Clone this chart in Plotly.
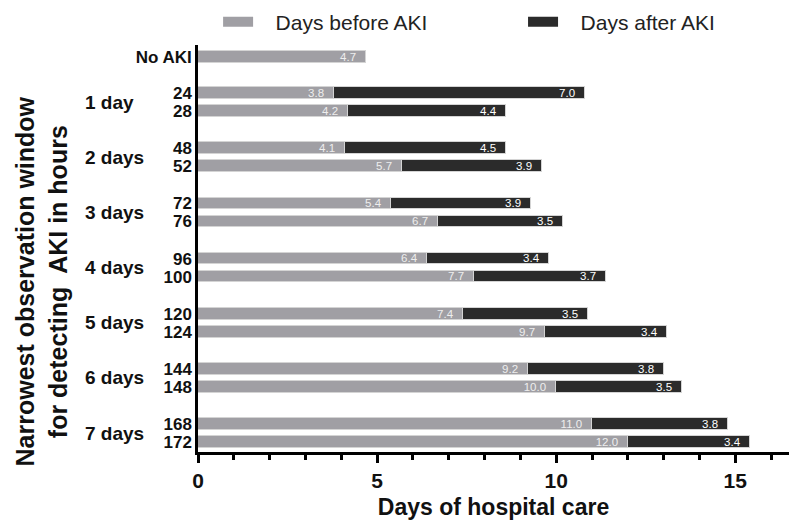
import plotly.graph_objects as go

# Hours of the narrowest observation window, grouped by day
row_labels = ["No AKI", "24", "28", "48", "52", "72", "76", "96", "100",
              "120", "124", "144", "148", "168", "172"]
group_labels = ["1 day", "2 days", "3 days", "4 days", "5 days", "6 days", "7 days"]

# Mean days of hospital care before and after AKI detection
days_before = [4.7, 3.8, 4.2, 4.1, 5.7, 5.4, 6.7, 6.4, 7.7, 7.4, 9.7, 9.2, 10.0, 11.0, 12.0]
days_after = [None, 7.0, 4.4, 4.5, 3.9, 3.9, 3.5, 3.4, 3.7, 3.5, 3.4, 3.8, 3.5, 3.8, 3.4]
series_names = ["Days before AKI", "Days after AKI"]

GRAY = "#a09fa4"
DARK = "#2b2b2b"
FONT = "Arial, Liberation Sans, sans-serif"
INK = "#111111"

# Row layout: "No AKI" on its own, then pairs of rows for each day group
PITCH = 3.065
ypos = [0.0]
for g in range(len(group_labels)):
    ypos += [2 + g * PITCH, 3 + g * PITCH]

fig = go.Figure()
fig.add_trace(go.Bar(
    y=ypos, x=days_before, orientation="h", width=0.64,
    marker=dict(color=GRAY, line=dict(color="#d4d4d4", width=1)),
    texttemplate="%{x:.1f}\u00a0\u00a0", textposition="inside", insidetextanchor="end",
    constraintext="none",
    textfont=dict(family=FONT, size=11.5, color="#eeeeee"),
    showlegend=False, hoverinfo="skip",
))
fig.add_trace(go.Bar(
    y=ypos, x=days_after, orientation="h", width=0.64,
    marker=dict(color=DARK, line=dict(color="#d4d4d4", width=1)),
    texttemplate="%{x:.1f}\u00a0\u00a0", textposition="inside", insidetextanchor="end",
    constraintext="none",
    textfont=dict(family=FONT, size=11.5, color="#ffffff"),
    showlegend=False, hoverinfo="skip",
))

# Legend entries with wide swatches, one legend box per series
PAD = "\u00a0\u00a0\u00a0"
for name, col, leg in [(series_names[0], GRAY, "legend"), (series_names[1], DARK, "legend2")]:
    fig.add_trace(go.Scatter(
        x=[None], y=[None], mode="lines", name=PAD + name, legend=leg,
        line=dict(color=col, width=10),
    ))

legend_style = dict(
    orientation="h", y=1.0565, yanchor="middle",
    font=dict(family=FONT, size=21, color="#222222"),
    itemwidth=30, bgcolor="rgba(0,0,0,0)",
)

annotations = []
for g, lab in enumerate(group_labels):
    annotations.append(dict(
        text=lab, x=-0.195, xref="paper", xanchor="left",
        y=2.5 + g * PITCH, yref="y", yanchor="middle",
        showarrow=False, font=dict(family=FONT, size=19, color=INK, weight="bold"),
    ))
annotations.append(dict(
    text="Narrowest observation window<br>for detecting  AKI in hours",
    textangle=-90, x=-0.265, xref="paper", xanchor="center",
    y=0.42, yref="paper", yanchor="middle", showarrow=False,
    font=dict(family=FONT, size=25, color=INK, weight="bold"),
))

fig.update_layout(
    width=790, height=523,
    margin=dict(l=198, r=1, t=45, b=71, autoexpand=False),
    paper_bgcolor="white", plot_bgcolor="white",
    barmode="stack", bargap=0,
    font=dict(family=FONT, color=INK),
    legend=dict(legend_style, x=0.034, xanchor="left"),
    legend2=dict(legend_style, x=0.55, xanchor="left"),
    annotations=annotations,
    xaxis=dict(
        range=[0, 16.5], tickvals=[0, 5, 10, 15],
        ticks="outside", ticklen=8, tickwidth=2.5, tickcolor="black",
        minor=dict(dtick=1, ticks="outside", ticklen=5, tickwidth=2.5, tickcolor="black"),
        showline=True, linecolor="black", linewidth=2.5,
        showgrid=False, zeroline=False,
        tickfont=dict(family=FONT, size=21, color=INK, weight="bold"),
        title=dict(text="Days of hospital care", standoff=8,
                   font=dict(family=FONT, size=23, color=INK, weight="bold")),
    ),
    yaxis=dict(
        range=[21.94, -0.67], tickvals=ypos, ticktext=row_labels,
        ticks="", showline=True, linecolor="black", linewidth=2.5,
        showgrid=False, zeroline=False,
        tickfont=dict(family=FONT, size=17, color=INK, weight="bold"),
    ),
)

fig.write_html("out.html")
